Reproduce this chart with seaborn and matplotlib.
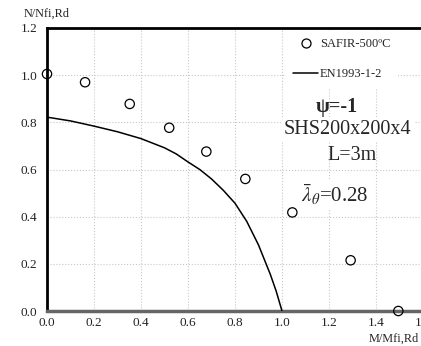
#!/usr/bin/env python3
"""M-N interaction chart: SAFIR results vs EN1993-1-2 curve."""

import numpy as np
import pandas as pd
import seaborn as sns
import matplotlib.pyplot as plt
from matplotlib.lines import Line2D

# SAFIR points
safir_m = [0.0, 0.162, 0.352, 0.520, 0.678, 0.844, 1.044, 1.292, 1.495]
safir_n = [1.005, 0.970, 0.878, 0.777, 0.676, 0.560, 0.418, 0.215, 0.0]

# EN1993-1-2 interaction curve
en_m = [0.0, 0.1, 0.2, 0.3, 0.4, 0.5, 0.55, 0.6, 0.65, 0.7, 0.75, 0.8,
        0.85, 0.9, 0.95, 0.975, 1.0]
en_n = [0.822, 0.806, 0.784, 0.760, 0.731, 0.692, 0.666, 0.632, 0.600,
        0.560, 0.512, 0.457, 0.380, 0.280, 0.156, 0.085, 0.0]

x_ticks = [0.0, 0.2, 0.4, 0.6, 0.8, 1.0, 1.2, 1.4, 1.6]
y_ticks = [0.0, 0.2, 0.4, 0.6, 0.8, 1.0, 1.2]

sns.set_theme(style="white")
plt.rcParams["font.family"] = ["Liberation Serif", "DejaVu Serif"]
plt.rcParams["mathtext.fontset"] = "stix"

fig = plt.figure(figsize=(4.21, 3.46), dpi=100)
ax = fig.add_axes([47 / 421, 35 / 346, 376 / 421, 283 / 346])

safir = pd.DataFrame({"m": safir_m, "n": safir_n})
en = pd.DataFrame({"m": en_m, "n": en_n})

sns.lineplot(data=en, x="m", y="n", ax=ax, color="black", lw=1.1,
             sort=False, zorder=3)
sns.scatterplot(data=safir, x="m", y="n", ax=ax, marker="o", s=45,
                facecolors="none", edgecolors="black", linewidth=0.9,
                zorder=6, clip_on=False)

ax.set_xlim(0, 1.6)
ax.set_ylim(0, 1.2)
ax.set_xticks(x_ticks)
ax.set_yticks(y_ticks)
ax.set_xticklabels([f"{v:.1f}" for v in x_ticks])
ax.set_yticklabels([f"{v:.1f}" for v in y_ticks])
ax.tick_params(axis="both", labelsize=9.5, colors="#222222")
ax.tick_params(axis="y", length=3, width=0.8, color="#888888", pad=4)
ax.tick_params(axis="x", length=0, pad=4)
ax.grid(True, color="#c8c8c8", linestyle=":", linewidth=0.8)

for side in ("left", "top"):
    ax.spines[side].set_color("black")
    ax.spines[side].set_linewidth(2.0)
ax.spines["bottom"].set_color("#666666")
ax.spines["bottom"].set_linewidth(2.5)
ax.spines["right"].set_visible(False)

ax.set_xlabel("M/Mfi,Rd", fontsize=8.8)
ax.xaxis.set_label_coords(0.922, -0.076)
ax.set_ylabel("N/Nfi,Rd", fontsize=8.8, rotation=0, ha="center", va="center")
ax.yaxis.set_label_coords(0.0, 1.05)

handles = [
    Line2D([], [], marker="o", ls="none", mfc="none", mec="black", ms=6.5, mew=0.9),
    Line2D([], [], color="black", lw=1.1),
]
leg = ax.legend(handles, ["SAFIR-500ºC", "EN1993-1-2"], loc="upper left",
                bbox_to_anchor=(0.635, 0.99), frameon=True, fontsize=9,
                handlelength=2.0, handletextpad=0.15, labelspacing=1.45,
                borderpad=0.6, borderaxespad=0.0)
leg.get_frame().set_facecolor("white")
leg.get_frame().set_edgecolor("none")
leg.get_frame().set_alpha(1.0)

box = dict(boxstyle="square,pad=0.15", fc="white", ec="none")
ax.text(0.771, 0.721, "ψ=-1", transform=ax.transAxes, ha="center",
        va="center", fontsize=14.5, fontweight="bold", zorder=5)
ax.text(0.80, 0.640, "SHS200x200x4", transform=ax.transAxes, ha="center",
        va="center", fontsize=14.5, zorder=5, bbox=box)
ax.text(0.811, 0.549, "L=3m", transform=ax.transAxes, ha="center",
        va="center", fontsize=14.5, zorder=5)
ax.text(0.766, 0.41, r"$\bar{\lambda}_{\theta}$=0.28", transform=ax.transAxes,
        ha="center", va="center", fontsize=15, zorder=5, bbox=box)

fig.savefig("out.png", dpi=100)
plt.close(fig)
